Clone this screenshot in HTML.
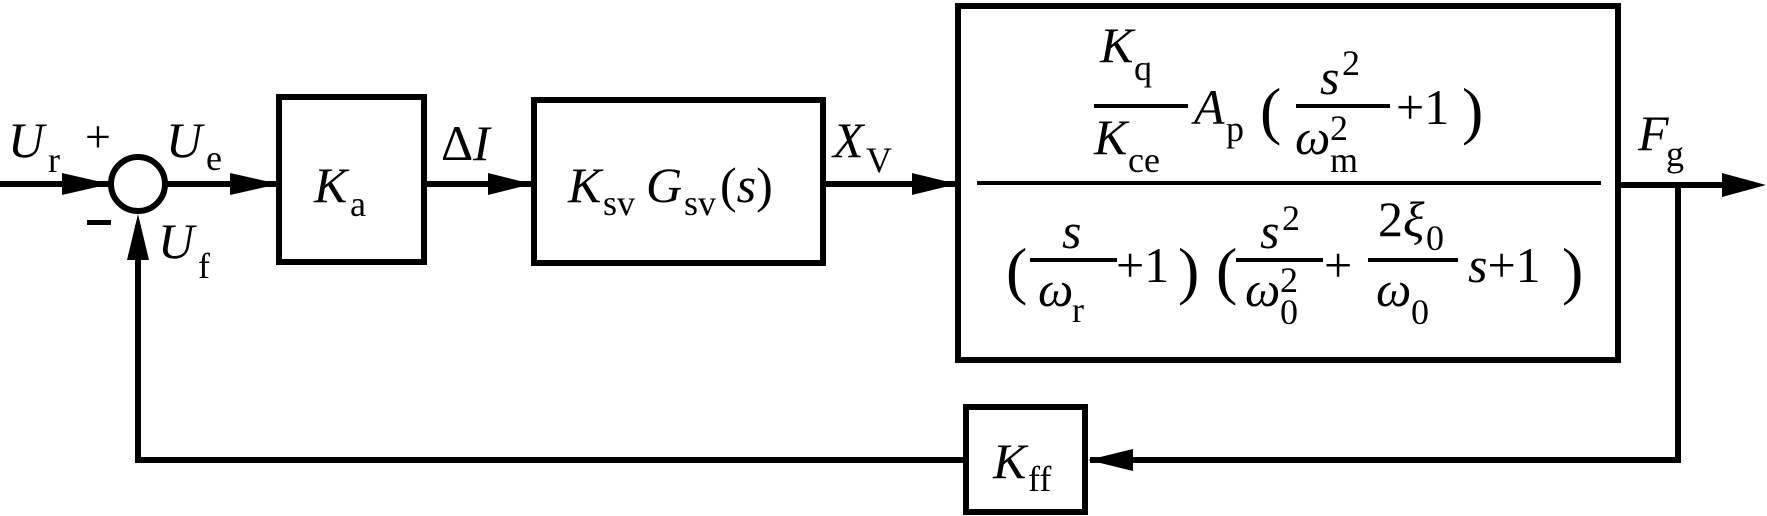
<!DOCTYPE html>
<html><head><meta charset="utf-8"><style>
html,body{margin:0;padding:0;background:#fff}
svg{display:block}
svg text{font-family:"Liberation Serif","DejaVu Serif",serif;fill:#000}
.i{font-style:italic}
</style></head><body>
<svg width="1767" height="516" viewBox="0 0 1767 516">
<g stroke="#000" stroke-width="6" fill="none">
<line x1="0" y1="184" x2="110" y2="184"/>
<circle cx="138" cy="184" r="27"/>
<line x1="165" y1="184" x2="279" y2="184"/>
<rect x="279" y="97" width="145" height="165"/>
<line x1="424" y1="184" x2="532" y2="184"/>
<rect x="534" y="100" width="289" height="163"/>
<line x1="823" y1="184" x2="957" y2="184"/>
<rect x="958" y="6" width="660" height="354"/>
<line x1="1618" y1="185" x2="1730" y2="185"/>
<polyline points="1678,185 1678,460 1090,460"/>
<rect x="966" y="407" width="119" height="105"/>
<polyline points="966,460 138,460 138,225"/>
</g>
<g fill="#000">
<polygon points="62,173 110,184 62,195"/>
<polygon points="230,173 279,184 230,195"/>
<polygon points="488,173 532,184 488,195"/>
<polygon points="912,173 957,184 912,195"/>
<polygon points="1722,173 1766,185 1722,197"/>
<polygon points="1133,449 1088,460 1133,471"/>
<polygon points="127,260 138,214 149,260"/>
<rect x="87" y="220" width="24" height="5"/>
</g>
<g stroke="#000" stroke-width="4">
<line x1="977" y1="183" x2="1601" y2="183"/>
<line x1="1094" y1="106" x2="1188" y2="106"/>
<line x1="1296" y1="106" x2="1390" y2="106"/>
<line x1="1030" y1="260" x2="1117" y2="260"/>
<line x1="1236" y1="260" x2="1323" y2="260"/>
<line x1="1368" y1="260" x2="1458" y2="260"/>
</g>
<g font-size="50">
<text x="8" y="157" class="i">U</text><text x="48" y="172" font-size="36">r</text>
<text x="85" y="152" font-size="46">+</text>
<text x="166" y="157" class="i">U</text><text x="206" y="170" font-size="36">e</text>
<text x="158" y="258" class="i">U</text><text x="198" y="278" font-size="36">f</text>
<text x="314" y="202" class="i">K</text><text x="350" y="216" font-size="36">a</text>
<text x="441" y="160">Δ<tspan class="i">I</tspan></text>
<text x="568" y="202" class="i">K</text><text x="603" y="215" font-size="36">sv</text>
<text x="646" y="202" class="i">G</text><text x="684" y="215" font-size="36">sv</text>
<text x="720" y="202">(<tspan class="i">s</tspan>)</text>
<text x="833" y="157" class="i">X</text><text x="866" y="172" font-size="36">V</text>
<text x="1638" y="150" class="i">F</text><text x="1666" y="166" font-size="36">g</text>
<text x="993" y="478" class="i">K</text><text x="1028" y="491" font-size="36">ff</text>
<text x="1100" y="62" class="i">K</text><text x="1134" y="80" font-size="36">q</text>
<text x="1094" y="154" class="i">K</text><text x="1128" y="172" font-size="36">ce</text>
<text x="1194" y="124" class="i">A</text><text x="1226" y="141" font-size="36">p</text>
<text x="1260" y="132" font-size="64">(</text>
<text x="1320" y="94" class="i">s</text><text x="1342" y="75" font-size="36">2</text>
<text x="1295" y="154" class="i">ω</text><text x="1330" y="140" font-size="36">2</text><text x="1330" y="172" font-size="36">m</text>
<text x="1396" y="124">+1</text>
<text x="1462" y="132" font-size="64">)</text>
<text x="1006" y="292" font-size="64">(</text>
<text x="1062" y="248" class="i">s</text>
<text x="1038" y="306" class="i">ω</text><text x="1072" y="322" font-size="36">r</text>
<text x="1116" y="282">+1</text>
<text x="1178" y="292" font-size="64">)</text>
<text x="1216" y="292" font-size="64">(</text>
<text x="1260" y="248" class="i">s</text><text x="1282" y="230" font-size="36">2</text>
<text x="1245" y="306" class="i">ω</text><text x="1280" y="292" font-size="36">2</text><text x="1280" y="324" font-size="36">0</text>
<text x="1324" y="282">+</text>
<text x="1378" y="236">2<tspan class="i">ξ</tspan></text><text x="1426" y="250" font-size="36">0</text>
<text x="1376" y="306" class="i">ω</text><text x="1411" y="324" font-size="36">0</text>
<text x="1468" y="282"><tspan class="i">s</tspan>+1</text>
<text x="1562" y="292" font-size="64">)</text>
</g>
</svg>
</body></html>
